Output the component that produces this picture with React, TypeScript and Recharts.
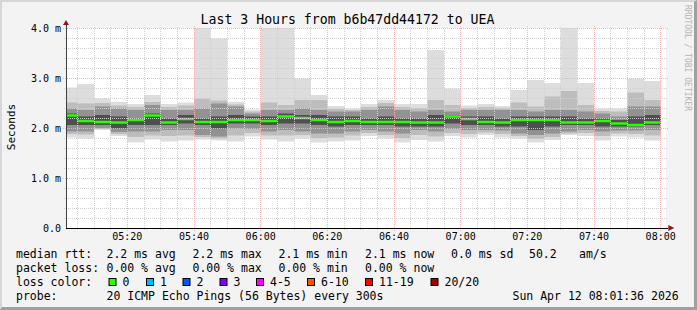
import { ComposedChart, Area, XAxis, YAxis, CartesianGrid, ReferenceLine } from 'recharts';

// 5-minute slots, minutes after 05:00 (slot start)
const SLOT_START = [
  0, 5, 10, 15, 20, 25, 30, 35, 40, 45, 50, 55, 60, 65, 70, 75, 80, 85,
  90, 95, 100, 105, 110, 115, 120, 125, 130, 135, 140, 145, 150, 155, 160, 165, 170, 175,
];
const SLOT_END = 180;

// smoke quantiles, ms
const SMOKE_MAX = [
  2.81, 2.88, 2.59, 2.52, 2.48, 2.66, 2.48, 2.51, 4.0, 3.79, 2.52, 2.37, 4.0, 4.0, 2.99, 2.66, 2.44, 2.39,
  2.48, 2.56, 2.48, 2.48, 3.56, 2.79, 2.45, 2.48, 2.44, 2.76, 2.96, 2.9, 4.0, 2.9, 2.39, 2.39, 2.99, 2.94,
];
const SMOKE_HI2 = [
  2.51, 2.49, 2.5, 2.45, 2.42, 2.52, 2.42, 2.45, 2.59, 2.55, 2.47, 2.33, 2.51, 2.46, 2.56, 2.56, 2.38, 2.36,
  2.42, 2.5, 2.42, 2.4, 2.56, 2.46, 2.4, 2.42, 2.4, 2.51, 2.43, 2.63, 2.74, 2.46, 2.34, 2.33, 2.71, 2.56,
];
const SMOKE_HI3 = [
  2.39, 2.36, 2.43, 2.39, 2.36, 2.46, 2.36, 2.36, 2.39, 2.49, 2.43, 2.29, 2.36, 2.36, 2.39, 2.36, 2.33, 2.33,
  2.36, 2.43, 2.36, 2.33, 2.36, 2.33, 2.36, 2.36, 2.36, 2.36, 2.33, 2.36, 2.36, 2.33, 2.29, 2.23, 2.43, 2.43,
];
const SMOKE_HI4 = [
  2.29, 2.23, 2.26, 2.23, 2.19, 2.29, 2.19, 2.26, 2.19, 2.23, 2.26, 2.23, 2.23, 2.29, 2.26, 2.26, 2.23, 2.23,
  2.19, 2.23, 2.19, 2.19, 2.26, 2.26, 2.23, 2.23, 2.19, 2.23, 2.23, 2.23, 2.23, 2.19, 2.19, 2.16, 2.23, 2.26,
];
const SMOKE_LO4 = [
  2.06, 2.06, 2.06, 1.99, 2.06, 2.06, 2.06, 2.09, 2.06, 1.99, 2.09, 2.09, 2.06, 2.09, 2.09, 2.06, 2.03, 2.06,
  2.06, 2.06, 2.03, 2.03, 2.03, 2.09, 2.06, 2.06, 2.03, 2.03, 1.96, 2.03, 2.06, 2.06, 2.03, 2.03, 2.03, 2.06,
];
const SMOKE_LO3 = [
  1.93, 1.93, 2.0, 1.92, 1.93, 1.93, 1.96, 1.96, 1.86, 1.83, 1.99, 1.98, 1.93, 1.96, 1.93, 1.89, 1.89, 1.93,
  1.96, 1.93, 1.89, 1.96, 1.93, 1.98, 1.96, 1.96, 1.95, 1.89, 1.86, 1.89, 1.93, 1.96, 1.93, 1.95, 1.95, 1.96,
];
const SMOKE_LO2 = [
  1.88, 1.87, 1.98, 1.88, 1.82, 1.85, 1.84, 1.85, 1.82, 1.79, 1.85, 1.9, 1.85, 1.85, 1.86, 1.8, 1.81, 1.85,
  1.9, 1.86, 1.8, 1.86, 1.83, 1.9, 1.88, 1.91, 1.88, 1.84, 1.78, 1.82, 1.89, 1.9, 1.84, 1.89, 1.88, 1.85,
];
const SMOKE_MIN = [
  1.81, 1.79, 1.96, 1.84, 1.71, 1.77, 1.73, 1.75, 1.77, 1.75, 1.73, 1.83, 1.77, 1.73, 1.79, 1.71, 1.73, 1.75,
  1.84, 1.79, 1.71, 1.76, 1.73, 1.84, 1.81, 1.86, 1.81, 1.79, 1.71, 1.76, 1.86, 1.84, 1.75, 1.83, 1.81, 1.75,
];
const MEDIAN_RTT = [
  2.25, 2.14, 2.12, 2.11, 2.16, 2.25, 2.11, 2.18, 2.12, 2.12, 2.16, 2.16, 2.14, 2.23, 2.2, 2.16, 2.12, 2.14,
  2.12, 2.12, 2.12, 2.11, 2.11, 2.23, 2.18, 2.12, 2.11, 2.16, 2.16, 2.16, 2.11, 2.11, 2.14, 2.09, 2.06, 2.11,
];

const TIME_DOMAIN = [1.6, 181.6]; // 05:01:36 .. 08:01:36
const TIME_TICKS = [20, 40, 60, 80, 100, 120, 140, 160, 180];
const TIME_LABELS = ['05:20', '05:40', '06:00', '06:20', '06:40', '07:00', '07:20', '07:40', '08:00'];
const RTT_TICKS = [0, 1, 2, 3, 4];
const RTT_LABELS = ['0.0', '1.0 m', '2.0 m', '3.0 m', '4.0 m'];

const MINOR_TIME = [5, 10, 15, 25, 30, 35, 45, 50, 55, 65, 70, 75, 85, 90, 95, 105, 110, 115, 125, 130, 135, 145, 150, 155, 165, 170, 175];
const MAJOR_TIME = [20, 40, 60, 80, 100, 120, 140, 160, 180];
const MINOR_RTT = [0.2, 0.4, 0.6, 0.8, 1.2, 1.4, 1.6, 1.8, 2.2, 2.4, 2.6, 2.8, 3.2, 3.4, 3.6, 3.8];
const MAJOR_RTT = [1, 2, 3, 4];

const LOSS_LEVELS = ['0', '1', '2', '3', '4-5', '6-10', '11-19', '20/20'];
const LOSS_COLORS = ['#26ff00', '#00b8ff', '#0059ff', '#7e00ff', '#ff00ff', '#ff5500', '#ff0000', '#a10000'];
const LOSS_BOX_X = [108.5, 146, 182.5, 219.5, 256, 307, 365, 430.5];

const MEDIAN_HALF = 0.025;

const rows = [...SLOT_START, SLOT_END].map((t, j) => {
  const i = Math.min(j, SLOT_START.length - 1);
  return {
    t,
    outer: [SMOKE_MIN[i], SMOKE_MAX[i]],
    b2: [SMOKE_LO2[i], SMOKE_HI2[i]],
    b3: [SMOKE_LO3[i], SMOKE_HI3[i]],
    b4: [SMOKE_LO4[i], SMOKE_HI4[i]],
    med: [MEDIAN_RTT[i] - MEDIAN_HALF, MEDIAN_RTT[i] + MEDIAN_HALF],
  };
});

const FONT = '"DejaVu Sans Mono", monospace';

const gridShape = (color: string) => (p: any) => (
  <line
    x1={p.x1}
    y1={p.y1}
    x2={p.x2}
    y2={p.y2}
    stroke={color}
    strokeWidth={1}
    strokeDasharray="1 1"
    shapeRendering="crispEdges"
  />
);
const minorShape = gridShape('#d2d2d2');
const majorShape = gridShape('#f7b3b3');

const xAxisShape = (p: any) => (
  <g>
    <line x1={p.x1} y1={p.y1} x2={p.x2} y2={p.y2} stroke="#000" strokeWidth={1} shapeRendering="crispEdges" />
    <polygon points={`${p.x2},${p.y2 - 3} ${p.x2 + 6},${p.y2} ${p.x2},${p.y2 + 3}`} fill="#8b1a1a" />
  </g>
);
const yAxisShape = (p: any) => (
  <g>
    <line x1={p.x1} y1={p.y1} x2={p.x2} y2={p.y2} stroke="#404040" strokeWidth={1} shapeRendering="crispEdges" />
    <polygon points={`${p.x2 - 3},${p.y2} ${p.x2},${p.y2 - 5} ${p.x2 + 3},${p.y2}`} fill="#8b1a1a" />
  </g>
);

const SMOKE = [
  { key: 'outer', color: '#dddddd' },
  { key: 'b2', color: '#bdbdbd' },
  { key: 'b3', color: '#929292' },
  { key: 'b4', color: '#4f4f4f' },
];

const legendText = (x: number, y: number, s: string) => (
  <text x={x} y={y} fontFamily={FONT} fontSize={11.5} fill="#000" style={{ whiteSpace: 'pre' }}>
    {s}
  </text>
);

const Overlay = () => (
  <svg width={697} height={310} style={{ position: 'absolute', left: 0, top: 0, pointerEvents: 'none' }}>
    <text x={347.5} y={24} textAnchor="middle" fontFamily={FONT} fontSize={13.2} fill="#000">
      Last 3 Hours from b6b47dd44172 to UEA
    </text>
    <text
      x={15}
      y={127}
      transform="rotate(-90 15 127)"
      textAnchor="middle"
      fontFamily={FONT}
      fontSize={11}
      fill="#000"
    >
      Seconds
    </text>
    <text x={685} y={5} transform="rotate(90 685 5)" fontFamily={FONT} fontSize={8} fill="#b4b4b4">
      RRDTOOL / TOBI OETIKER
    </text>

    {legendText(16, 258, 'median rtt:')}
    {legendText(106.5, 258, '2.2 ms avg')}
    {legendText(192.5, 258, '2.2 ms max')}
    {legendText(278.5, 258, '2.1 ms min')}
    {legendText(365, 258, '2.1 ms now')}
    {legendText(451, 258, '0.0 ms sd')}
    {legendText(529, 258, '50.2')}
    {legendText(579, 258, 'am/s')}

    {legendText(16, 272, 'packet loss:')}
    {legendText(106.5, 272, '0.00 % avg')}
    {legendText(192.5, 272, '0.00 % max')}
    {legendText(278.5, 272, '0.00 % min')}
    {legendText(365, 272, '0.00 % now')}

    {legendText(16, 286, 'loss color:')}
    {LOSS_LEVELS.map((lvl, i) => (
      <g key={lvl}>
        <rect x={LOSS_BOX_X[i] + 0.5} y={278.5} width={7} height={7} fill={LOSS_COLORS[i]} stroke="#000" strokeWidth={1} />
        {legendText(LOSS_BOX_X[i] + 14, 286, lvl)}
      </g>
    ))}

    {legendText(16, 300, 'probe:')}
    {legendText(106.5, 300, '20 ICMP Echo Pings (56 Bytes) every 300s')}
    {legendText(512.5, 300, 'Sun Apr 12 08:01:36 2026')}
  </svg>
);

export default function App() {
  return (
    <div style={{ position: 'relative', width: 697, height: 310, background: '#f3f3f3' }}>
      <style>{'body{margin:0}'}</style>
      <ComposedChart
        width={697}
        height={310}
        data={rows}
        margin={{ top: 28, right: 31, bottom: 52, left: 0 }}
      >
        <CartesianGrid horizontal={false} vertical={false} fill="#ffffff" fillOpacity={1} stroke="none" />
        <XAxis
          type="number"
          dataKey="t"
          domain={TIME_DOMAIN}
          allowDataOverflow
          ticks={TIME_TICKS}
          interval={0}
          tickFormatter={(v: number) => TIME_LABELS[TIME_TICKS.indexOf(v)]}
          axisLine={false}
          tickLine={false}
          tickSize={3}
          tickMargin={2}
          height={30}
          tick={{ fontSize: 10, fontFamily: FONT, fill: '#000' }}
        />
        <YAxis
          type="number"
          domain={[0, 4]}
          allowDataOverflow
          ticks={RTT_TICKS}
          interval={0}
          tickFormatter={(v: number) => RTT_LABELS[RTT_TICKS.indexOf(v)]}
          axisLine={false}
          tickLine={false}
          tickSize={3}
          tickMargin={2}
          width={66}
          tick={{ fontSize: 10, fontFamily: FONT, fill: '#000' }}
        />
        {SMOKE.map((s) => (
          <Area
            key={s.key}
            dataKey={s.key}
            type="stepAfter"
            stroke="none"
            fill={s.color}
            fillOpacity={1}
            dot={false}
            activeDot={false}
            isAnimationActive={false}
          />
        ))}
        {MINOR_TIME.map((t) => (
          <ReferenceLine
            key={`mt${t}`}
            segment={[{ x: t, y: -0.04 }, { x: t, y: 4.04 }]}
            ifOverflow="visible"
            shape={minorShape}
          />
        ))}
        {MINOR_RTT.map((v) => (
          <ReferenceLine
            key={`mr${v}`}
            segment={[{ x: 1.0, y: v }, { x: 182.2, y: v }]}
            ifOverflow="visible"
            shape={minorShape}
          />
        ))}
        {MAJOR_TIME.map((t) => (
          <ReferenceLine
            key={`Mt${t}`}
            segment={[{ x: t, y: -0.06 }, { x: t, y: 4.06 }]}
            ifOverflow="visible"
            shape={majorShape}
          />
        ))}
        {MAJOR_RTT.map((v) => (
          <ReferenceLine
            key={`Mr${v}`}
            segment={[{ x: 0.7, y: v }, { x: 182.5, y: v }]}
            ifOverflow="visible"
            shape={majorShape}
          />
        ))}
        <Area
          dataKey="med"
          type="stepAfter"
          stroke="none"
          fill={LOSS_COLORS[0]}
          fillOpacity={1}
          dot={false}
          activeDot={false}
          isAnimationActive={false}
        />
        <ReferenceLine
          segment={[{ x: TIME_DOMAIN[0], y: 0 }, { x: 182.3, y: 0 }]}
          ifOverflow="visible"
          shape={xAxisShape}
        />
        <ReferenceLine
          segment={[{ x: TIME_DOMAIN[0], y: 0 }, { x: TIME_DOMAIN[0], y: 4.06 }]}
          ifOverflow="visible"
          shape={yAxisShape}
        />
      </ComposedChart>
      <Overlay />
      <div
        style={{
          position: 'absolute',
          left: 0,
          top: 0,
          width: 697,
          height: 310,
          boxSizing: 'border-box',
          borderTop: '2px solid #d6d6d6',
          borderLeft: '2px solid #d6d6d6',
          borderBottom: '3px solid #a0a0a0',
          borderRight: '3px solid #a0a0a0',
          pointerEvents: 'none',
        }}
      />
    </div>
  );
}
